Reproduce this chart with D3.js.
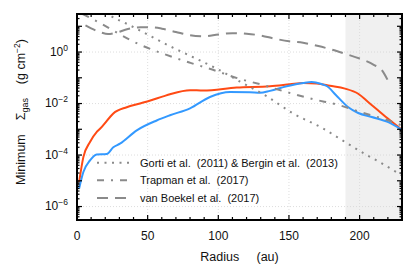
<!DOCTYPE html>
<html><head><meta charset="utf-8">
<script src="https://cdn.jsdelivr.net/npm/d3@7"></script>
<style>
body{margin:0;background:#fff;}
svg{display:block;font-family:"Liberation Sans",Arial,Helvetica,sans-serif;}
</style>
</head><body>
<svg id="chart" width="415" height="277"></svg>
<script>
// ---- data (radius in au, minimum gas surface density in g cm^-2) ----
const orangeRadius = [1.5, 4.5, 9.2, 14, 16.3, 23.4, 25.7, 35.2, 44.6, 61, 65.8, 80, 89.4, 113, 136.6, 150.7, 160.2, 169.6, 179, 189.7, 199, 206, 213, 220, 230];
const orangeSigma  = [8.9e-6, 8.3e-5, 3.2e-4, 7.9e-4, 1.05e-3, 3.0e-3, 4.1e-3, 7.2e-3, 1.0e-2, 1.9e-2, 2.3e-2, 3.3e-2, 3.2e-2, 4.2e-2, 4.7e-2, 5.6e-2, 6.3e-2, 6.0e-2, 4.9e-2, 3.8e-2, 2.4e-2, 1.15e-2, 5.5e-3, 2.6e-3, 9.5e-4];

const blueRadius = [1.5, 4.5, 9.2, 13.9, 21, 25.7, 30.4, 42.3, 56.4, 65.8, 80, 94.1, 108.3, 122.4, 129.5, 136.6, 148.4, 160.2, 166, 173, 177, 183, 192, 199, 208.6, 220.3, 230];
const blueSigma  = [5.0e-6, 2.2e-5, 6.2e-5, 1.05e-4, 1.1e-4, 2.0e-4, 2.75e-4, 9.1e-4, 2.2e-3, 3.5e-3, 6.5e-3, 1.8e-2, 2.8e-2, 2.75e-2, 2.6e-2, 3.1e-2, 4.7e-2, 6.3e-2, 6.8e-2, 5.7e-2, 4.7e-2, 2.2e-2, 7.2e-3, 4.3e-3, 3.0e-3, 1.9e-3, 9.5e-4];

const gortiRadius = [20, 22.9, 37, 51.2, 64.9, 79, 100, 115.4, 134.3, 153, 173.2, 189.7, 205, 215, 230];
const gortiSigma  = [35.5, 27.5, 11.2, 4.4, 1.78, 0.76, 0.21, 0.071, 0.019, 0.0041, 0.00115, 3.2e-4, 1.0e-4, 5.0e-5, 1.6e-5];

const trapmanRadius = [4, 13.4, 45.6, 62.3, 80.3, 96.2, 113.9, 132.3, 142.2, 167.7, 184.7, 201, 217.3, 230];
const trapmanSigma  = [30, 16.2, 1.82, 0.81, 0.38, 0.204, 0.095, 0.051, 0.035, 0.0145, 0.0089, 0.0046, 0.0025, 0.0014];

const boekelRadius = [6, 10, 17, 22, 27, 36, 45, 52, 60, 70, 80, 90, 100, 110, 120, 130, 140, 150, 160, 170, 180, 190, 200, 210, 216, 220];
const boekelSigma  = [10.8, 8.3, 5.75, 5.0, 5.5, 7.8, 9.1, 9.1, 8.1, 6.0, 4.5, 4.1, 4.8, 5.4, 5.1, 4.4, 3.3, 2.6, 2.3, 1.74, 1.26, 0.85, 0.56, 0.32, 0.19, 0.079];

const shadedRange = [190, 230];
const xTickLabels = [0, 50, 100, 150, 200];
const yTickExponents = [0, -2, -4, -6];
const legendLabels = ["Gorti et al.  (2011) & Bergin et al.  (2013)", "Trapman et al.  (2017)", "van Boekel et al.  (2017)"];

// ---- layout ----
const L = 77, R = 402, T = 14, B = 220;
const svg = d3.select("#chart");
const x = d3.scaleLinear().domain([0, 230]).range([L, R]);
const y = d3.scaleLog().domain([3e-7, 30]).range([B, T]);

svg.append("defs").append("clipPath").attr("id", "clip")
  .append("rect").attr("x", L).attr("y", T).attr("width", R - L).attr("height", B - T);

// shaded region
svg.append("rect")
  .attr("x", x(shadedRange[0])).attr("y", T)
  .attr("width", x(shadedRange[1]) - x(shadedRange[0])).attr("height", B - T)
  .attr("fill", "#f0f0f0");

// grid
const grid = svg.append("g").attr("stroke", "#d6d6d6").attr("stroke-width", 0.8).attr("stroke-dasharray", "1,2");
grid.selectAll(".gx").data(xTickLabels.filter(d => d > 0)).join("line")
  .attr("x1", d => x(d)).attr("x2", d => x(d)).attr("y1", T).attr("y2", B);
grid.selectAll(".gy").data(yTickExponents).join("line")
  .attr("x1", L).attr("x2", R).attr("y1", d => y(Math.pow(10, d))).attr("y2", d => y(Math.pow(10, d)));

const line = d3.line().x(d => x(d[0])).y(d => y(d[1])).curve(d3.curveMonotoneX);
const plot = svg.append("g").attr("clip-path", "url(#clip)");
const zipData = (r, s) => r.map((v, i) => [v, s[i]]);

const grey = "#8a8a8a";
const styles = [
  {r: gortiRadius, s: gortiSigma, dash: "2,5.5"},
  {r: trapmanRadius, s: trapmanSigma, dash: "7,7,2,7"},
  {r: boekelRadius, s: boekelSigma, dash: "11,7"}
];

plot.append("path").datum(zipData(orangeRadius, orangeSigma))
  .attr("d", line).attr("fill", "none").attr("stroke", "#ff4a14").attr("stroke-width", 2);
plot.append("path").datum(zipData(blueRadius, blueSigma))
  .attr("d", line).attr("fill", "none").attr("stroke", "#3399ff").attr("stroke-width", 2);

styles.forEach(st => {
  plot.append("path").datum(zipData(st.r, st.s))
    .attr("d", line).attr("fill", "none").attr("stroke", grey)
    .attr("stroke-width", 2).attr("stroke-dasharray", st.dash);
});

// ticks
function minorLog() {
  const v = [];
  for (let e = -7; e <= 1; e++) for (let k = 2; k <= 9; k++) {
    const val = k * Math.pow(10, e);
    if (val >= 3e-7 && val <= 30) v.push(val);
  }
  return v;
}
const majorY = d3.range(-6, 2).map(e => Math.pow(10, e));
const tickG = svg.append("g").attr("stroke", "#000").attr("stroke-width", 1.2);
const xMajor = d3.range(0, 231, 50), xMinor = d3.range(0, 231, 10).filter(d => d % 50 !== 0);
[[B, -1], [T, 1]].forEach(([yy, dir]) => {
  tickG.selectAll(null).data(xMajor).join("line")
    .attr("x1", d => x(d)).attr("x2", d => x(d)).attr("y1", yy).attr("y2", yy + dir * 5);
  tickG.selectAll(null).data(xMinor).join("line")
    .attr("x1", d => x(d)).attr("x2", d => x(d)).attr("y1", yy).attr("y2", yy + dir * 3);
});
[[L, 1], [R, -1]].forEach(([xx, dir]) => {
  tickG.selectAll(null).data(majorY).join("line")
    .attr("y1", d => y(d)).attr("y2", d => y(d)).attr("x1", xx).attr("x2", xx + dir * 5);
  tickG.selectAll(null).data(minorLog()).join("line")
    .attr("y1", d => y(d)).attr("y2", d => y(d)).attr("x1", xx).attr("x2", xx + dir * 2.5);
});

// frame
svg.append("rect").attr("x", L).attr("y", T).attr("width", R - L).attr("height", B - T)
  .attr("fill", "none").attr("stroke", "#000").attr("stroke-width", 2);

// x tick labels
svg.append("g").selectAll("text").data(xTickLabels).join("text")
  .attr("x", d => x(d)).attr("y", 240).attr("text-anchor", "middle")
  .attr("font-size", 12).attr("fill", "#111").text(d => d);

// y tick labels
const yl = svg.append("g").selectAll("text").data(yTickExponents).join("text")
  .attr("x", 68).attr("y", d => y(Math.pow(10, d)) + 3.5).attr("text-anchor", "end")
  .attr("font-size", 12).attr("fill", "#111");
yl.append("tspan").text("10");
yl.append("tspan").attr("dy", -5).attr("font-size", 8.5).text(d => d === 0 ? "0" : "\u2212" + Math.abs(d));

// axis titles
svg.append("text").attr("x", 239.5).attr("y", 261).attr("text-anchor", "middle")
  .attr("font-size", 12.5).attr("fill", "#111").style("white-space", "pre").text("Radius     (au)");

const yt = svg.append("text").attr("transform", "translate(25,112) rotate(-90)")
  .attr("text-anchor", "middle").attr("font-size", 12.5).attr("fill", "#111").style("white-space", "pre");
yt.append("tspan").text("Minimum    \u03A3");
yt.append("tspan").attr("font-size", 9).attr("dy", 3).text("gas");
yt.append("tspan").attr("dy", -3).text("    (g cm");
yt.append("tspan").attr("font-size", 8.5).attr("dy", -5).text("\u22122");
yt.append("tspan").attr("dy", 5).text(")");

// legend
const legY = [162.7, 180.3, 198];
const leg = svg.append("g");
styles.forEach((st, i) => {
  leg.append("line").attr("x1", 97).attr("x2", 129).attr("y1", legY[i]).attr("y2", legY[i])
    .attr("stroke", grey).attr("stroke-width", 2).attr("stroke-dasharray", st.dash);
  leg.append("text").attr("x", 140).attr("y", legY[i] + 4).attr("font-size", 11)
    .attr("fill", "#111").style("white-space", "pre").text(legendLabels[i]);
});
</script>
</body></html>
